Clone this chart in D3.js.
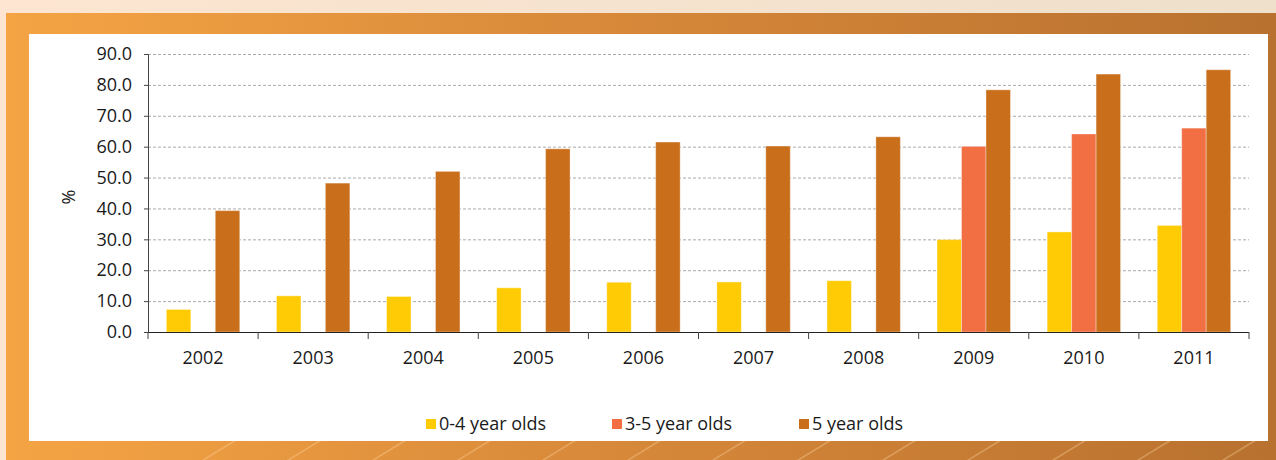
<!DOCTYPE html>
<html>
<head>
<meta charset="utf-8">
<script src="https://cdn.jsdelivr.net/npm/d3@7"></script>
<style>
  body { margin: 0; overflow: hidden; }
  text { font-family: "Open Sans", sans-serif; fill: #1a1a1a; }
</style>
</head>
<body>
<svg id="chart" width="1276" height="460"></svg>
<script>
var years = ['2002', '2003', '2004', '2005', '2006', '2007', '2008', '2009', '2010', '2011'];
var seriesNames = ['0-4 year olds', '3-5 year olds', '5 year olds'];
var colors = ['#FFCB05', '#F26E43', '#C96E1A'];
var age04 = [7.3, 11.7, 11.5, 14.3, 16.1, 16.2, 16.6, 29.9, 32.4, 34.5];
var age35 = [null, null, null, null, null, null, null, 60.1, 64.1, 66.0];
var age5 = [39.3, 48.2, 52.0, 59.3, 61.5, 60.2, 63.2, 78.4, 83.5, 84.9];
var yTicks = [0, 10, 20, 30, 40, 50, 60, 70, 80, 90];

var seriesValues = [age04, age35, age5];

var svg = d3.select('#chart'),
  W = 1276,
  H = 460;

// background frame
var defs = svg.append('defs');
var gTop = defs.append('linearGradient').attr('id', 'peach');
gTop.append('stop').attr('offset', '0%').attr('stop-color', '#FDE5D1');
gTop.append('stop').attr('offset', '100%').attr('stop-color', '#EEE0CB');
var gPanel = defs.append('linearGradient').attr('id', 'panel');
gPanel.append('stop').attr('offset', '0%').attr('stop-color', '#F5A444');
gPanel.append('stop').attr('offset', '45%').attr('stop-color', '#D98A3A');
gPanel.append('stop').attr('offset', '100%').attr('stop-color', '#B8712F');

svg.append('rect').attr('width', W).attr('height', H).attr('fill', 'url(#peach)');
svg.append('rect').attr('x', 6).attr('y', 13).attr('width', W - 6).attr('height', H - 13)
  .attr('fill', 'url(#panel)');

// faint diagonal streaks on the frame
var streaks = d3.range(0, 14).map(function(i) { return 200 + i * 85; });
svg.append('g')
  .selectAll('line')
  .data(streaks)
  .enter()
  .append('line')
  .attr('x1', function(d) { return d; })
  .attr('y1', 462)
  .attr('x2', function(d) { return d + 36; })
  .attr('y2', 440)
  .attr('stroke', '#FFD9A8')
  .attr('stroke-opacity', 0.35)
  .attr('stroke-width', 1.5);

svg.append('rect').attr('x', 29).attr('y', 34).attr('width', 1239).attr('height', 407)
  .attr('fill', '#fff');

// scales
var plotLeft = 148, plotRight = 1249, plotTop = 54, plotBottom = 332;
var x0 = d3.scaleBand().domain(years).range([plotLeft, plotRight]);
var bw = x0.bandwidth();
var x1 = d3.scaleBand().domain(seriesNames).range([bw / 6, bw * 5 / 6]);
var y = d3.scaleLinear().domain([0, 90]).range([plotBottom, plotTop]);

// gridlines
svg.append('g')
  .selectAll('line')
  .data(yTicks.slice(1))
  .enter()
  .append('line')
  .attr('x1', plotLeft)
  .attr('x2', plotRight)
  .attr('y1', function(d) { return y(d) + 0.5; })
  .attr('y2', function(d) { return y(d) + 0.5; })
  .attr('stroke', '#aaa')
  .attr('stroke-dasharray', '3,2');

// bars
var groups = svg.append('g')
  .selectAll('g')
  .data(years)
  .enter()
  .append('g')
  .attr('transform', function(d) { return 'translate(' + x0(d) + ',0)'; });

groups.selectAll('rect')
  .data(function(d, i) {
    return seriesNames.map(function(s, j) {
      return { series: s, value: seriesValues[j][i], c: colors[j] };
    }).filter(function(e) { return e.value != null; });
  })
  .enter()
  .append('rect')
  .attr('x', function(d) { return x1(d.series); })
  .attr('y', function(d) { return y(d.value); })
  .attr('width', x1.bandwidth())
  .attr('height', function(d) { return y(0) - y(d.value); })
  .attr('fill', function(d) { return d.c; })
  .attr('stroke', '#fff')
  .attr('stroke-opacity', 0.35)
  .attr('stroke-width', 1);

// y axis
var yAxis = svg.append('g')
  .attr('transform', 'translate(' + plotLeft + ',0)')
  .call(d3.axisLeft(y).tickValues(yTicks).tickFormat(d3.format('.1f')).tickSize(4).tickPadding(12));
yAxis.select('.domain').attr('stroke', '#444');
yAxis.selectAll('.tick line').attr('stroke', '#444');
yAxis.selectAll('text').style('font-size', '18px').attr('fill', '#1a1a1a');

// x axis: line, boundary ticks, centred labels
var xa = svg.append('g');
xa.append('line')
  .attr('x1', plotLeft).attr('x2', plotRight)
  .attr('y1', plotBottom + 0.5).attr('y2', plotBottom + 0.5)
  .attr('stroke', '#222').attr('stroke-width', 1.2);
xa.selectAll('line.tk')
  .data(years.concat(['end']))
  .enter()
  .append('line')
  .attr('class', 'tk')
  .attr('x1', function(d) { return d === 'end' ? plotRight : x0(d); })
  .attr('x2', function(d) { return d === 'end' ? plotRight : x0(d); })
  .attr('y1', plotBottom)
  .attr('y2', plotBottom + 7)
  .attr('stroke', '#444');
xa.selectAll('text')
  .data(years)
  .enter()
  .append('text')
  .attr('x', function(d) { return x0(d) + bw / 2; })
  .attr('y', 364)
  .attr('text-anchor', 'middle')
  .style('font-size', '18px')
  .text(function(d) { return d; });

// y axis title
svg.append('text')
  .attr('transform', 'translate(75,197) rotate(-90)')
  .attr('text-anchor', 'middle')
  .style('font-size', '18px')
  .text('%');

// legend
var legendX = [426, 612, 799];
var legend = svg.append('g')
  .selectAll('g')
  .data(seriesNames)
  .enter()
  .append('g')
  .attr('transform', function(d, i) { return 'translate(' + legendX[i] + ',419)'; });
legend.append('rect')
  .attr('width', 10).attr('height', 10)
  .attr('fill', function(d, i) { return colors[i]; });
legend.append('text')
  .attr('x', 13)
  .attr('y', 11)
  .style('font-size', '18px')
  .text(function(d) { return d; });
</script>
</body>
</html>
